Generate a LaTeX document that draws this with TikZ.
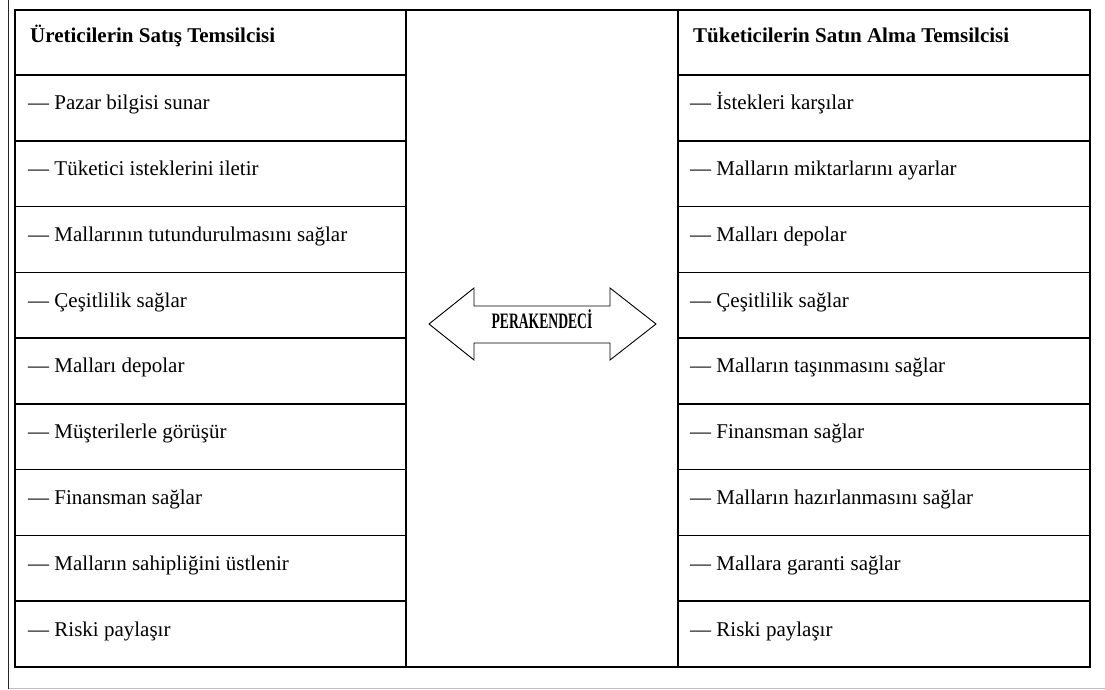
\documentclass[tikz,border=0pt]{standalone}
\usepackage{fontspec}
\setmainfont{Liberation Serif}
\newfontfamily\darfont[FakeStretch=0.62]{Liberation Serif}
\definecolor{gri}{rgb}{0.75,0.75,0.75}

\begin{document}
\begin{tikzpicture}[x=1pt,y=-1pt,font=\fontsize{21}{25}\selectfont,
		cizgi/.style={line width=1.6pt},
		madde/.style={anchor=base west,inner sep=0pt},
		baslik/.style={anchor=base west,inner sep=0pt,font=\fontsize{21}{25}\selectfont\bfseries}]
			\useasboundingbox (0,0) rectangle (1105,690);
			% dis cerceve
			\draw[gri, line width=1pt] (8.5,688.5) -- (1105,688.5);
			\draw[black!85, line width=1.2pt] (8.5,0) -- (8.5,689);
			% tablo
			\draw[cizgi] (15,10) rectangle (1090,667);
			\draw[cizgi] (406,10) -- (406,667);
			\draw[cizgi] (678,10) -- (678,667);
			\foreach \i in {0,...,8} {
				\draw[cizgi] (15,75+\i*65.78) -- (406,75+\i*65.78);
				\draw[cizgi] (678,75+\i*65.78) -- (1090,75+\i*65.78);
			}
			\node[baslik] (uretici) at (30,43) {Üreticilerin Satış Temsilcisi};
			\node[baslik] (tuketici) at (693,43) {Tüketicilerin Satın Alma Temsilcisi};
			\foreach \m [count=\i] in {Pazar bilgisi sunar, Tüketici isteklerini iletir,
				Mallarının tutundurulmasını sağlar, Çeşitlilik sağlar, Malları depolar,
				Müşterilerle görüşür, Finansman sağlar, Malların sahipliğini üstlenir,
				Riski paylaşır}
				\node[madde] (sol\i) at (28,75+\i*65.78-31) {— \m};
			\foreach \m [count=\i] in {İstekleri karşılar, Malların miktarlarını ayarlar,
				Malları depolar, Çeşitlilik sağlar, Malların taşınmasını sağlar,
				Finansman sağlar, Malların hazırlanmasını sağlar, Mallara garanti sağlar,
				Riski paylaşır}
				\node[madde] (sag\i) at (690,75+\i*65.78-31) {— \m};
			% cift yonlu ok
			\draw[line width=0.9pt] (429,324) -- (474,288) -- (474,306) -- (610,306) -- (610,288)
				-- (656,324) -- (610,360) -- (610,343) -- (474,343) -- (474,360) -- cycle;
			\node[anchor=base,inner sep=0pt,font=\fontsize{22}{26}\darfont\bfseries] (perakende) at (542,328) {PERAKENDECİ};
		\end{tikzpicture}
\end{document}
